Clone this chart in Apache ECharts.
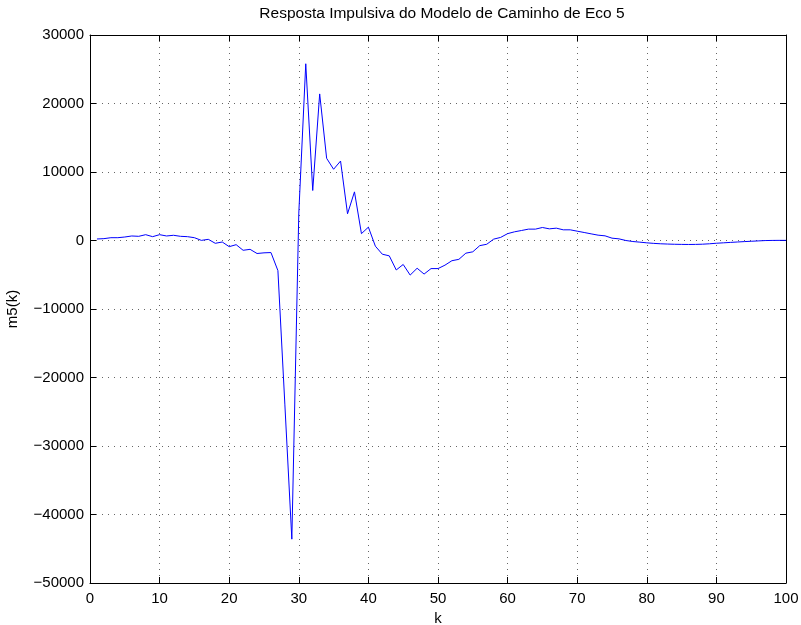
<!DOCTYPE html>
<html>
<head>
<meta charset="utf-8">
<script src="https://cdn.jsdelivr.net/npm/echarts@6/dist/echarts.min.js"></script>
<style>
  html, body { margin: 0; padding: 0; background: #fff; }
  #chart { width: 801px; height: 625px; }
</style>
</head>
<body>
<div id="chart"></div>
<script>
// Echo-path model 5 impulse response, samples k = 1..100
const titleText = 'Resposta Impulsiva do Modelo de Caminho de Eco 5';
const xLabel = 'k';
const yLabel = 'm5(k)';
const m5 = [
  220, 270, 410, 410, 510, 660, 610, 850, 560, 850,
  660, 760, 610, 560, 410, 20, 170, -410, -220, -900,
  -610, -1430, -1290, -1900, -1800, -1760, -4400, -24000, -43600, 4000,
  25800, 7300, 21400, 12000, 10400, 11600, 3900, 7100, 1000, 1950,
  -830, -2000, -2240, -4300, -3500, -5050, -4050, -4900, -4100, -4100,
  -3600, -2950, -2750, -1850, -1650, -750, -550, 200, 450, 1000,
  1270, 1460, 1660, 1660, 1900, 1700, 1800, 1560, 1560, 1360,
  1170, 970, 780, 680, 340, 240, 0, -150, -240, -340,
  -420, -480, -520, -550, -570, -580, -570, -540, -480, -400,
  -340, -280, -220, -160, -110, -60, -10, 10, 20, 20
];
const xRange = [0, 100, 10];
const yRange = [-50000, 30000, 10000];

const points = m5.map((v, i) => [i + 1, v]);
const font = 'Liberation Sans, Arial, Helvetica, sans-serif';
const fmt = v => String(v).replace('-', '\u2212');

const gridLine = { show: true, lineStyle: { color: '#666', type: [1, 5], width: 1 } };
const tickIn = { show: true, inside: true, length: 6, lineStyle: { color: '#000' } };
const axisLn = { show: true, onZero: false, lineStyle: { color: '#000', width: 1 } };

const chart = echarts.init(document.getElementById('chart'), null, { renderer: 'canvas' });
chart.setOption({
  animation: false,
  backgroundColor: '#fff',
  title: {
    text: titleText, left: 437, top: 1, textAlign: 'center',
    textStyle: { fontFamily: font, fontSize: 15.5, fontWeight: 'normal', color: '#000' }
  },
  grid: { left: 90, right: 15, top: 35, bottom: 42, containLabel: false, outerBoundsMode: 'none' },
  xAxis: [{
    type: 'value', min: xRange[0], max: xRange[1], interval: xRange[2],
    position: 'bottom',
    name: xLabel, nameLocation: 'middle', nameGap: 27,
    nameTextStyle: { fontFamily: font, fontSize: 15, color: '#000' },
    axisLine: axisLn, axisTick: tickIn, splitLine: gridLine,
    axisLabel: { fontFamily: font, fontSize: 15, color: '#000', margin: 8, formatter: fmt }
  }, {
    type: 'value', min: xRange[0], max: xRange[1], interval: xRange[2],
    position: 'top',
    axisLine: axisLn, axisTick: tickIn, splitLine: { show: false }, axisLabel: { show: false }
  }],
  yAxis: [{
    type: 'value', min: yRange[0], max: yRange[1], interval: yRange[2],
    position: 'left',
    name: yLabel, nameLocation: 'middle', nameGap: 70, nameRotate: 90,
    nameTextStyle: { fontFamily: font, fontSize: 15, color: '#000' },
    axisLine: axisLn, axisTick: tickIn, splitLine: gridLine,
    axisLabel: { fontFamily: font, fontSize: 15, color: '#000', margin: 6, formatter: fmt }
  }, {
    type: 'value', min: yRange[0], max: yRange[1], interval: yRange[2],
    position: 'right',
    axisLine: axisLn, axisTick: tickIn, splitLine: { show: false }, axisLabel: { show: false }
  }],
  series: [{
    type: 'line', data: points, xAxisIndex: 0, yAxisIndex: 0,
    showSymbol: false, smooth: false,
    lineStyle: { color: '#0000ff', width: 1 }
  }]
});
</script>
</body>
</html>
